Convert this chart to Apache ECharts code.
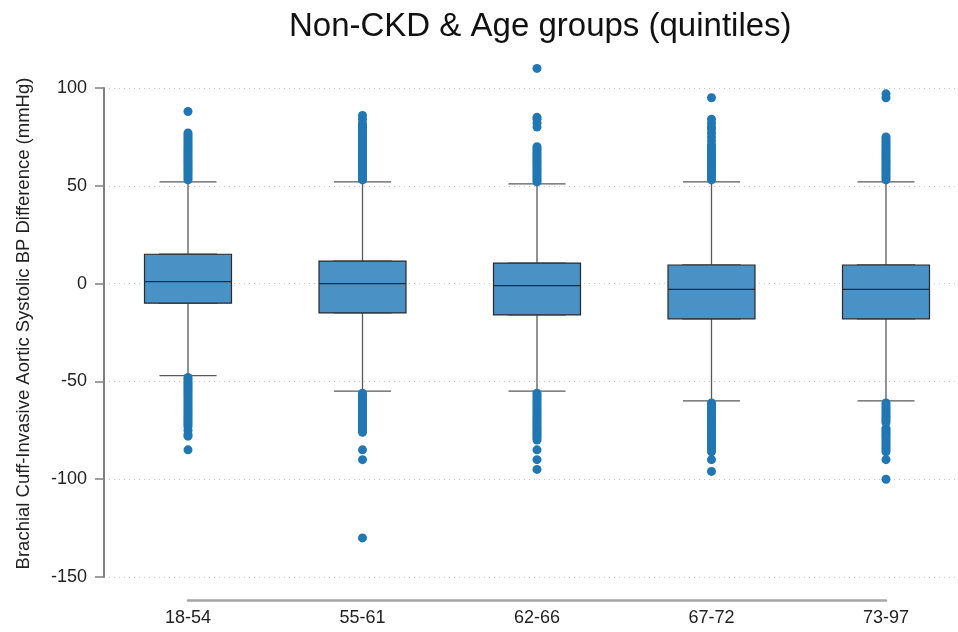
<!DOCTYPE html>
<html>
<head>
<meta charset="utf-8">
<script src="https://cdn.jsdelivr.net/npm/echarts@6/dist/echarts.min.js"></script>
<style>
  html, body { margin: 0; padding: 0; background: #fff; }
  #main { width: 958px; height: 632px; }
</style>
</head>
<body>
<div id="main"></div>
<script>
var groups = ['18-54', '55-61', '62-66', '67-72', '73-97'];

// [lower whisker, Q1, median, Q3, upper whisker]
var boxStats = [
  [-47, -10, 1, 15, 52],
  [-55, -15, 0, 11.5, 52],
  [-55, -16, -1, 10.5, 51],
  [-60, -18, -3, 9.5, 52],
  [-60, -18, -3, 9.5, 52]
];

// outliers, one list per age group
var outliers0 = [53, 54, 55, 56, 57, 58, 59, 60, 61, 62, 63, 64, 65, 66, 67, 68, 69, 70, 71, 72, 73, 74, 75, 76, 77, 88,
  -48, -49, -50, -51, -52, -53, -54, -55, -56, -57, -58, -59, -60, -61, -62, -63, -64, -65, -66, -67, -68, -69, -70, -71, -72, -73, -75, -77, -78, -85];
var outliers1 = [53, 54, 55, 56, 57, 58, 59, 60, 61, 62, 63, 64, 65, 66, 67, 68, 69, 70, 71, 72, 73, 74, 75, 76, 77, 78, 79, 80, 81, 82, 84, 86,
  -56, -57, -58, -59, -60, -61, -62, -63, -64, -65, -66, -67, -68, -69, -70, -71, -72, -73, -74, -75, -76, -85, -90, -130];
var outliers2 = [52, 53, 54, 55, 56, 57, 58, 59, 60, 61, 62, 63, 64, 65, 66, 67, 68, 69, 70, 80, 82, 84, 85, 110,
  -56, -57, -58, -59, -60, -61, -62, -63, -64, -65, -66, -67, -68, -69, -70, -71, -72, -73, -74, -75, -76, -77, -78, -79, -80, -85, -90, -95];
var outliers3 = [53, 54, 55, 56, 57, 58, 59, 60, 61, 62, 63, 64, 65, 66, 67, 68, 69, 70, 71, 73, 75, 77, 79, 80, 82, 84, 95,
  -61, -62, -63, -64, -65, -66, -67, -68, -69, -70, -71, -72, -73, -74, -75, -76, -77, -78, -79, -80, -81, -82, -83, -84, -85, -86, -90, -96];
var outliers4 = [53, 54, 55, 56, 57, 58, 59, 60, 61, 62, 63, 64, 65, 66, 67, 68, 69, 70, 71, 72, 73, 74, 75, 95, 97,
  -61, -62, -63, -64, -65, -66, -67, -68, -69, -70, -71, -74, -75, -76, -77, -78, -79, -80, -81, -82, -83, -84, -85, -86, -90, -100];

var yTicks = { min: -150, max: 100, interval: 50 };

var outlierLists = [outliers0, outliers1, outliers2, outliers3, outliers4];
var outlierData = [];
outlierLists.forEach(function (list, i) {
  list.forEach(function (v) { outlierData.push([i, v]); });
});
// full whisker/box for the thin caps, and a box-only copy drawn wider on top
var whiskerData = boxStats;
var bodyData = boxStats.map(function (s) { return [s[1], s[1], s[2], s[3], s[3]]; });

var chart = echarts.init(document.getElementById('main'), null, { renderer: 'canvas' });

var option = {
  animation: false,
  textStyle: { fontFamily: 'Liberation Sans, Arial, sans-serif' },
  title: {
    text: 'Non-CKD & Age groups (quintiles)',
    left: 284,
    top: 5,
    textStyle: { fontSize: 33, fontWeight: 'normal', color: '#111' }
  },
  grid: [
    { left: 104, right: 3, top: 88, bottom: 55 },
    { left: 188, right: 72, top: 88, bottom: 55 }
  ],
  xAxis: [
    { gridIndex: 0, type: 'value', show: false },
    {
      gridIndex: 1,
      type: 'category',
      data: groups,
      boundaryGap: false,
      offset: 23,
      axisLine: { onZero: false, lineStyle: { color: '#a6a6a6', width: 2.5 } },
      axisTick: { show: false },
      axisLabel: { fontSize: 18, color: '#222', margin: 9 },
      splitLine: { show: false }
    },
    { gridIndex: 1, type: 'category', data: groups, boundaryGap: false, show: false }
  ],
  yAxis: [
    {
      gridIndex: 0,
      type: 'value',
      min: yTicks.min,
      max: yTicks.max,
      interval: yTicks.interval,
      name: 'Brachial Cuff-Invasive Aortic Systolic BP Difference (mmHg)',
      nameLocation: 'middle',
      nameGap: 71,
      nameTextStyle: { fontSize: 18.5, color: '#222', padding: [0, 0, 0, 18] },
      axisLine: { show: true, lineStyle: { color: '#808080', width: 2 } },
      axisTick: { show: true, length: 9, lineStyle: { color: '#808080', width: 1.5 } },
      axisLabel: { fontSize: 18, color: '#222', margin: 17 },
      splitLine: { show: true, lineStyle: { color: '#c8c8c8', type: [1, 4], width: 1.2 } }
    },
    { gridIndex: 1, type: 'value', min: yTicks.min, max: yTicks.max, interval: yTicks.interval, show: false }
  ],
  series: [
    {
      name: 'whiskers',
      type: 'boxplot',
      xAxisIndex: 2,
      yAxisIndex: 1,
      boxWidth: [57, 57],
      data: whiskerData,
      itemStyle: { color: '#4a91c6', borderColor: '#5a5a5a', borderWidth: 1.3 }
    },
    {
      name: 'box',
      type: 'boxplot',
      xAxisIndex: 1,
      yAxisIndex: 1,
      boxWidth: [87, 87],
      data: bodyData,
      itemStyle: { color: '#4a91c6', borderColor: '#2a2a2a', borderWidth: 1.2 }
    },
    {
      name: 'outliers',
      type: 'scatter',
      xAxisIndex: 1,
      yAxisIndex: 1,
      symbolSize: 9,
      clip: false,
      data: outlierData,
      itemStyle: { color: '#2077b4', opacity: 1 }
    }
  ]
};

chart.setOption(option);
</script>
</body>
</html>
